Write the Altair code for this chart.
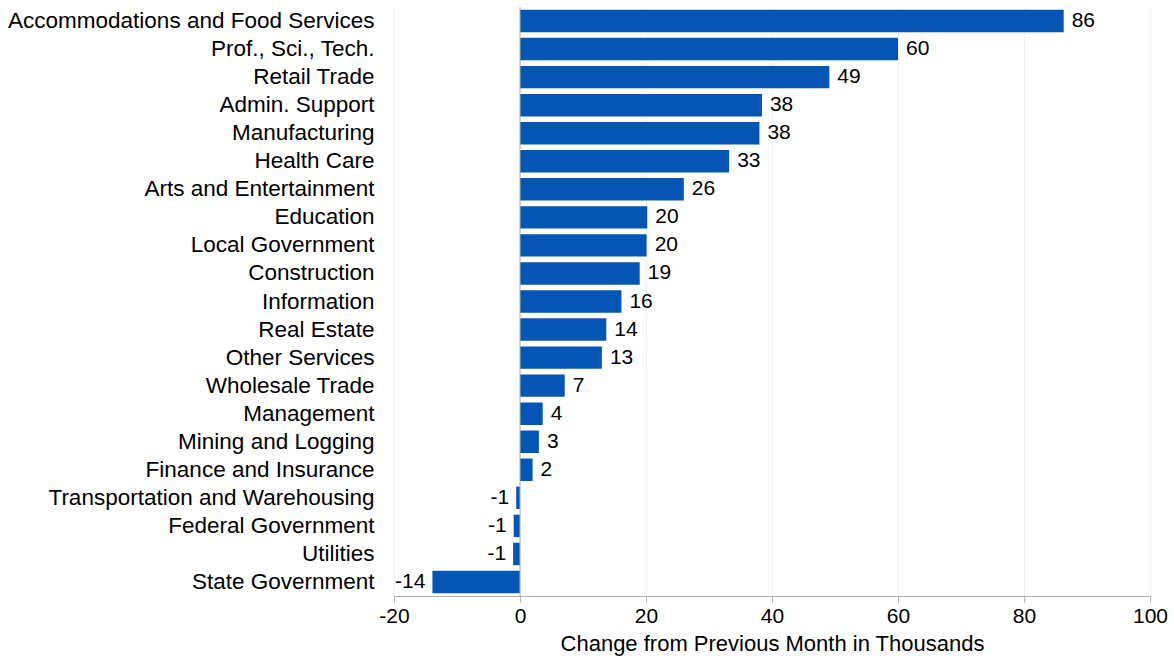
import altair as alt
import pandas as pd

categories = [
    "Accommodations and Food Services", "Prof., Sci., Tech.", "Retail Trade",
    "Admin. Support", "Manufacturing", "Health Care", "Arts and Entertainment",
    "Education", "Local Government", "Construction", "Information",
    "Real Estate", "Other Services", "Wholesale Trade", "Management",
    "Mining and Logging", "Finance and Insurance",
    "Transportation and Warehousing", "Federal Government", "Utilities",
    "State Government",
]
values = [86.3, 60.0, 49.1, 38.4, 38.0, 33.2, 26.0, 20.2, 20.1, 19.0, 16.1,
          13.7, 13.0, 7.1, 3.6, 3.0, 2.0, -0.6, -1.0, -1.1, -13.9]
labels = ["86", "60", "49", "38", "38", "33", "26", "20", "20", "19", "16",
          "14", "13", "7", "4", "3", "2", "-1", "-1", "-1", "-14"]
x_ticks = [-20, 0, 20, 40, 60, 80, 100]

df = pd.DataFrame({"category": categories, "value": values, "label": labels})

FONT = "Liberation Sans"
BLUE = "#0455B4"

x_scale = alt.Scale(domain=[-20, 100], nice=False, zero=False)
y_enc = alt.Y("category:N", sort=categories, title=None,
              scale=alt.Scale(paddingInner=0.2, paddingOuter=0.1),
              axis=alt.Axis(domain=False, ticks=False, grid=False,
                            labelFont=FONT, labelFontSize=22.5, labelColor="#000000",
                            labelPadding=20, labelLimit=500))

bars = alt.Chart(df).mark_bar(color=BLUE).encode(
    x=alt.X("value:Q", scale=x_scale,
            title="Change from Previous Month in Thousands",
            axis=alt.Axis(values=x_ticks, grid=True, labelExpr="'' + datum.value",
                          labelFlush=False, labelOverlap=False,
                          gridColor="#f0f0f0", gridWidth=1,
                          domainColor="#b0b0b0", tickColor="#b0b0b0",
                          tickSize=6, labelPadding=3,
                          labelFont=FONT, labelFontSize=21, labelColor="#000000",
                          titleFont=FONT, titleFontSize=22, titleFontWeight="normal",
                          titleColor="#000000", titlePadding=7)),
    y=y_enc,
)

zero = alt.Chart(pd.DataFrame({"z": [0]})).mark_rule(color="#b0b0b0", strokeWidth=1).encode(
    x=alt.X("z:Q", scale=x_scale)
)

pos_text = alt.Chart(df).transform_filter("datum.value >= 0").mark_text(
    align="left", baseline="middle", dx=8, font=FONT, fontSize=21, color="#000000"
).encode(x=alt.X("value:Q", scale=x_scale), y=alt.Y("category:N", sort=categories), text="label:N")

neg_text = alt.Chart(df).transform_filter("datum.value < 0").mark_text(
    align="right", baseline="middle", dx=-7, font=FONT, fontSize=21, color="#000000"
).encode(x=alt.X("value:Q", scale=x_scale), y=alt.Y("category:N", sort=categories), text="label:N")

chart = alt.layer(bars, zero, pos_text, neg_text).properties(
    width=756, height=589,
    autosize=alt.AutoSizeParams(type="none"),
    padding={"left": 394, "top": 7, "right": 24, "bottom": 65},
    background="white",
).configure_view(stroke=None)

chart.save("out.html", embed_options={"renderer": "svg", "actions": False})
